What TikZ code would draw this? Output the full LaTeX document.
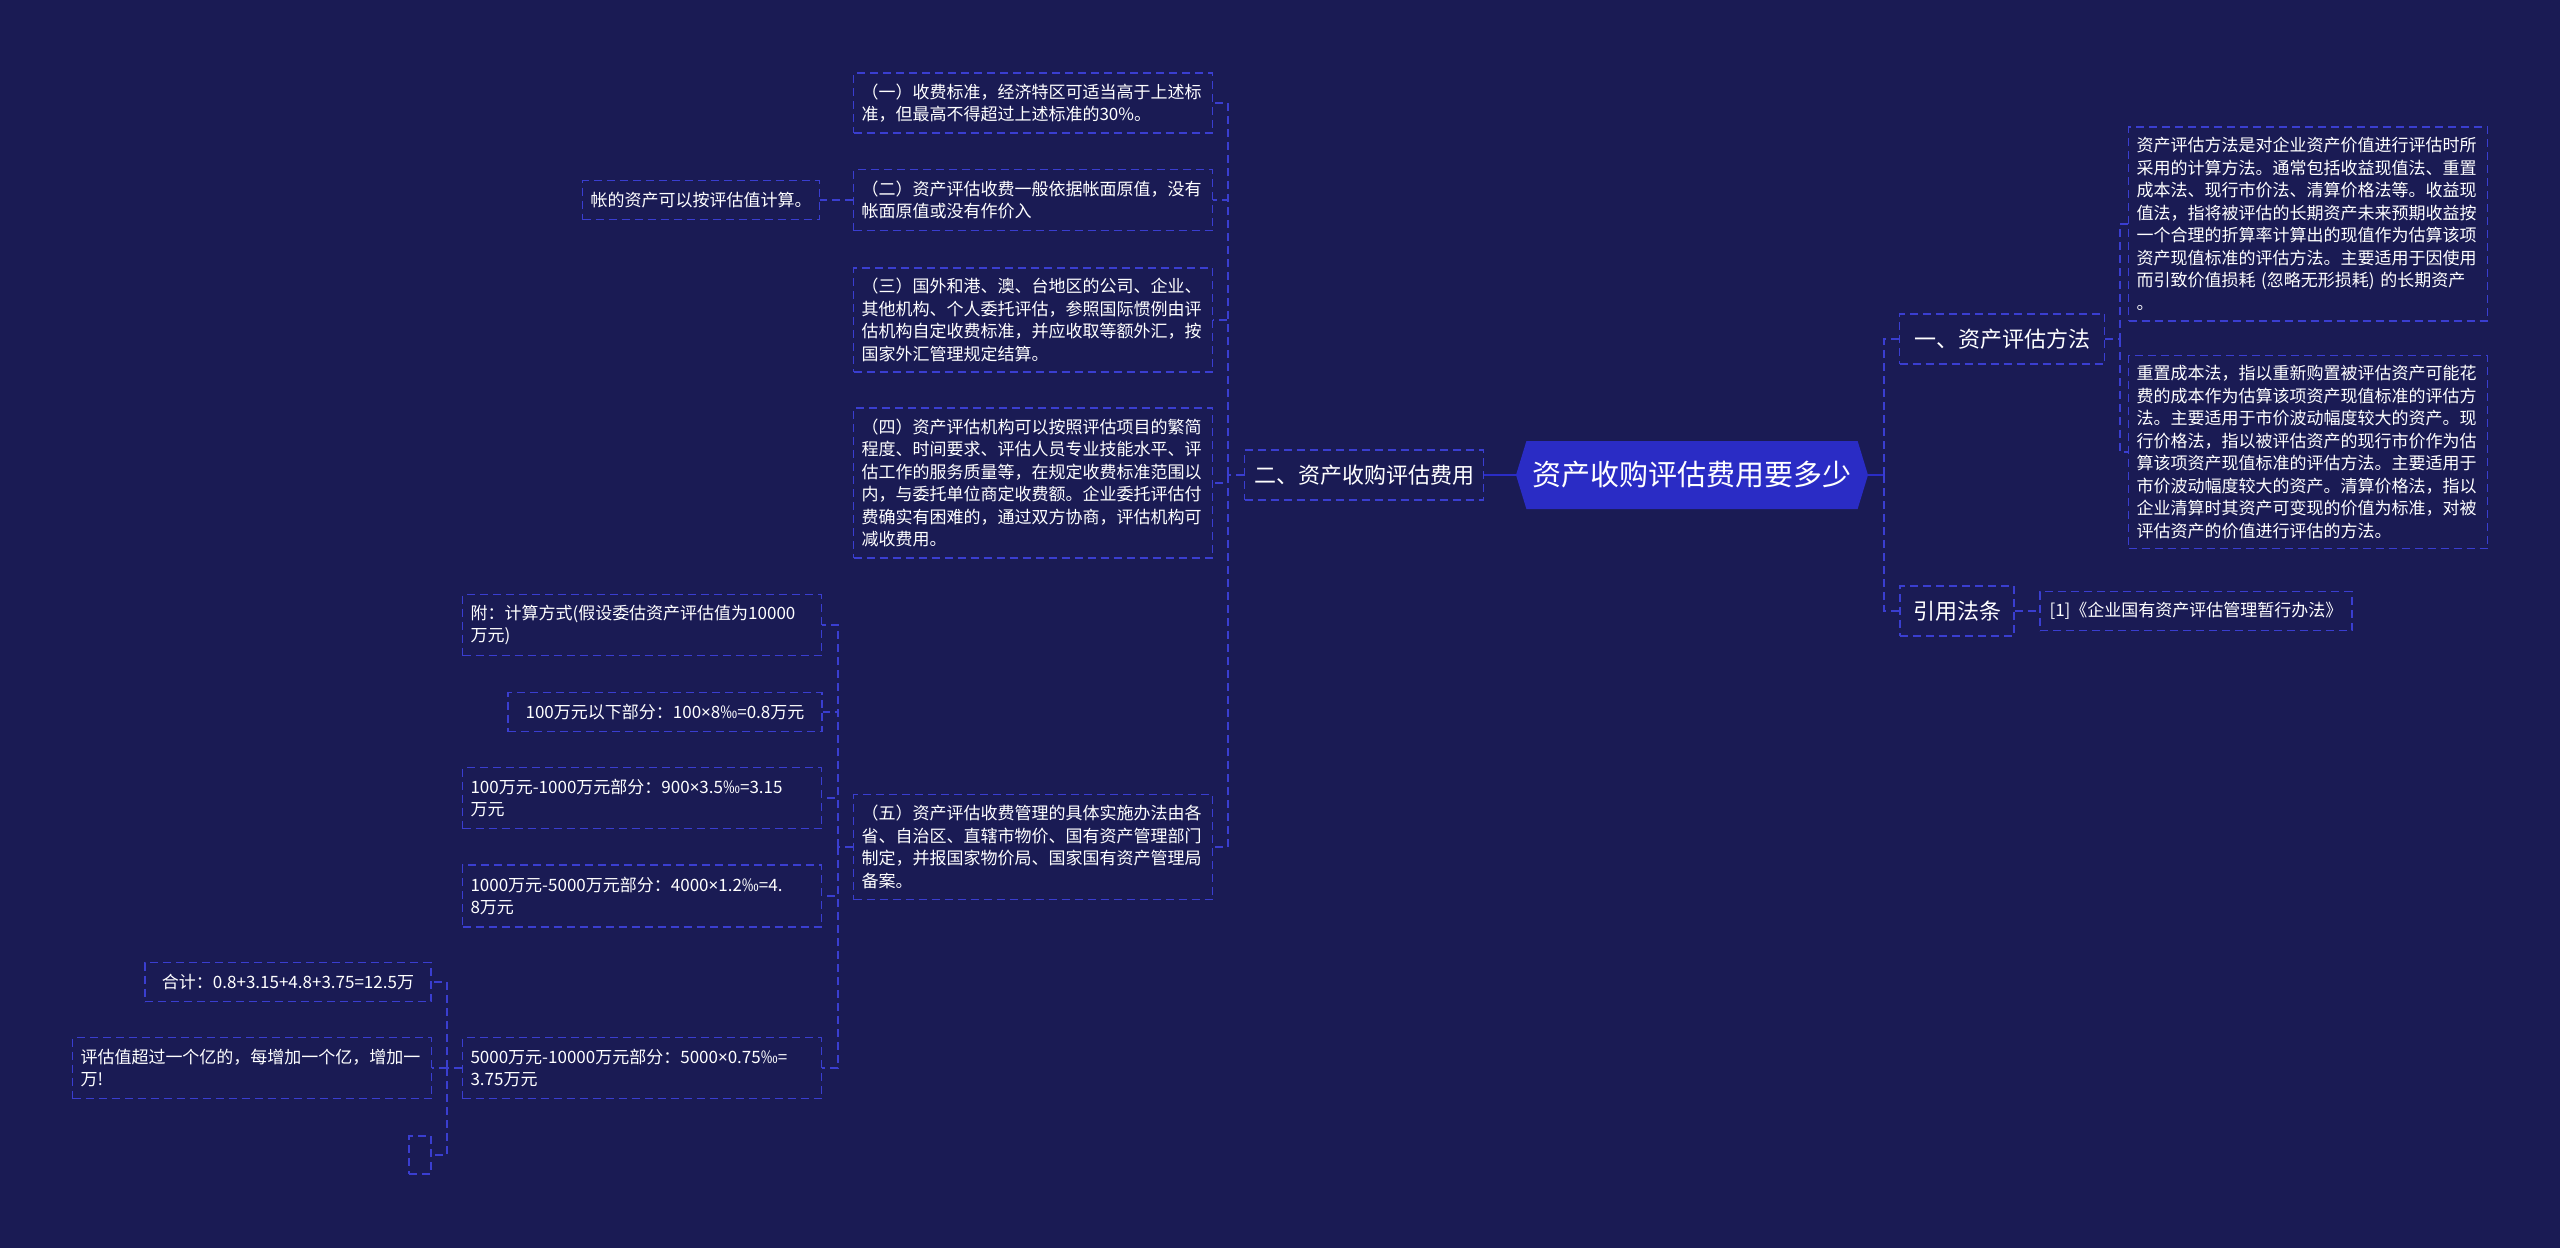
\documentclass[tikz,border=0pt]{standalone}
\usepackage{fontspec}
\setmainfont{Noto Sans CJK SC}
\newfontfamily\latinfont{Noto Sans}
\usetikzlibrary{shapes.symbols}
\definecolor{bgnavy}{RGB}{26,27,84}
\definecolor{rootblue}{RGB}{42,44,197}
\definecolor{edgeblue}{RGB}{58,62,208}
\newcommand{\smallcn}{\fontsize{8.5}{11.25}\selectfont}
\newcommand{\topiccn}{\fontsize{11}{13}\selectfont}
\newcommand{\timesign}{{\latinfont ×}}

\begin{document}
\begin{tikzpicture}[
        x=0.5pt, y=-0.5pt,
        every node/.style={text=white, align=left},
        dashbox/.style={draw=edgeblue, line width=0.7pt, dash pattern=on 4pt off 2.5pt, inner xsep=4pt, inner ysep=0pt},
        rootbox/.style={shape=signal, signal to=west and east, signal pointer angle=146, fill=rootblue, minimum width=176pt, minimum height=34pt, inner sep=0pt, align=center, font=\fontsize{14.5}{17}\selectfont},
        topicbox/.style={dashbox, align=center, minimum height=25pt, font=\topiccn},
        notebox/.style={dashbox, text width=171.5pt, font=\smallcn},
        tagbox/.style={dashbox, align=center, minimum height=19.5pt, font=\smallcn},
        link/.style={draw=edgeblue, line width=0.7pt, dash pattern=on 4pt off 2.5pt},
        stub/.style={draw=rootblue, line width=1pt}
    ]
        \fill[bgnavy] (0,0) rectangle (2560,1248);
        \useasboundingbox (0,0) rectangle (2560,1248);

        \node[rootbox] (root) at (1692,475) {资产收购评估费用要多少};
        \node[topicbox, minimum width=119.5pt] (fee) at (1364,475) {二、资产收购评估费用};
        \node[topicbox, minimum width=102.5pt] (method) at (2002,339) {一、资产评估方法};
        \node[topicbox, minimum width=57pt] (law) at (1957,611) {引用法条};

        \node[notebox, minimum height=97pt] (descA) at (2308,224) {资产评估方法是对企业资产价值进行评估时所\\采用的计算方法。通常包括收益现值法、重置\\成本法、现行市价法、清算价格法等。收益现\\值法，指将被评估的长期资产未来预期收益按\\一个合理的折算率计算出的现值作为估算该项\\资产现值标准的评估方法。主要适用于因使用\\而引致价值损耗 (忽略无形损耗) 的长期资产\\。};
        \node[notebox, minimum height=96.5pt] (descB) at (2308,452) {重置成本法，指以重新购置被评估资产可能花\\费的成本作为估算该项资产现值标准的评估方\\法。主要适用于市价波动幅度较大的资产。现\\行价格法，指以被评估资产的现行市价作为估\\算该项资产现值标准的评估方法。主要适用于\\市价波动幅度较大的资产。清算价格法，指以\\企业清算时其资产可变现的价值为标准，对被\\评估资产的价值进行评估的方法。};
        \node[tagbox, minimum width=156pt] (lawref) at (2196,611) {[1]《企业国有资产评估管理暂行办法》};

        \node[notebox, minimum height=30pt] (p1) at (1033,103) {（一）收费标准，经济特区可适当高于上述标\\准，但最高不得超过上述标准的30\%。};
        \node[notebox, minimum height=30.5pt] (p2) at (1033,200) {（二）资产评估收费一般依据帐面原值，没有\\帐面原值或没有作价入};
        \node[notebox, minimum height=52pt] (p3) at (1033,320) {（三）国外和港、澳、台地区的公司、企业、\\其他机构、个人委托评估，参照国际惯例由评\\估机构自定收费标准，并应收取等额外汇，按\\国家外汇管理规定结算。};
        \node[notebox, minimum height=75pt] (p4) at (1033,483) {（四）资产评估机构可以按照评估项目的繁简\\程度、时间要求、评估人员专业技能水平、评\\估工作的服务质量等，在规定收费标准范围以\\内，与委托单位商定收费额。企业委托评估付\\费确实有困难的，通过双方协商，评估机构可\\减收费用。};
        \node[notebox, minimum height=52.5pt] (p5) at (1033,847) {（五）资产评估收费管理的具体实施办法由各\\省、自治区、直辖市物价、国有资产管理部门\\制定，并报国家物价局、国家国有资产管理局\\备案。};
        \node[tagbox, minimum width=118.5pt] (acct) at (701,200) {帐的资产可以按评估值计算。};

        \node[notebox, minimum height=30.5pt] (c0) at (642,625) {附：计算方式(假设委估资产评估值为10000\\万元)};
        \node[tagbox, minimum width=157pt] (c1) at (665,712) {100万元以下部分：100\timesign8‰=0.8万元};
        \node[notebox, minimum height=30.5pt] (c2) at (642,798) {100万元-1000万元部分：900\timesign3.5‰=3.15\\万元};
        \node[notebox, minimum height=31pt] (c3) at (642,896) {1000万元-5000万元部分：4000\timesign1.2‰=4.\\8万元};
        \node[notebox, minimum height=30.5pt] (c4) at (642,1068) {5000万元-10000万元部分：5000\timesign0.75‰=\\3.75万元};

        \node[tagbox, minimum width=143pt] (total) at (288,982) {合计：0.8+3.15+4.8+3.75=12.5万};
        \node[notebox, minimum height=30.5pt] (over) at (252,1068) {评估值超过一个亿的，每增加一个亿，增加一\\万!};
        \node[dashbox, minimum width=11pt, minimum height=19pt] (blank) at (420,1155) {};

        \coordinate (rjoint) at (1884,475);
        \coordinate (fjoint) at (1228,475);
        \coordinate (mjoint) at (2120,339);
        \coordinate (p5joint) at (838,847);
        \coordinate (c4joint) at (447,1068);

        \draw[stub] (root.west) -- (fee.east);
        \draw[stub] (root.east) -- (rjoint);
        \draw[link] (rjoint) |- (method.west);
        \draw[link] (rjoint) |- (law.west);
        \draw[link] (method.east) -- (mjoint) |- (descA.west);
        \draw[link] (mjoint) |- (descB.west);
        \draw[link] (law) -- (lawref);
        \draw[link] (fee.west) -- (fjoint);
        \foreach \n in {p1,p2,p3,p4,p5}
            \draw[link] (fjoint) |- (\n.east);
        \draw[link] (p2.west) -- (acct.east);
        \draw[link] (p5.west) -- (p5joint);
        \foreach \n in {c0,c1,c2,c3,c4}
            \draw[link] (p5joint) |- (\n.east);
        \draw[link] (c4.west) -- (c4joint);
        \foreach \n in {total,over,blank}
            \draw[link] (c4joint) |- (\n.east);
    \end{tikzpicture}
\end{document}
